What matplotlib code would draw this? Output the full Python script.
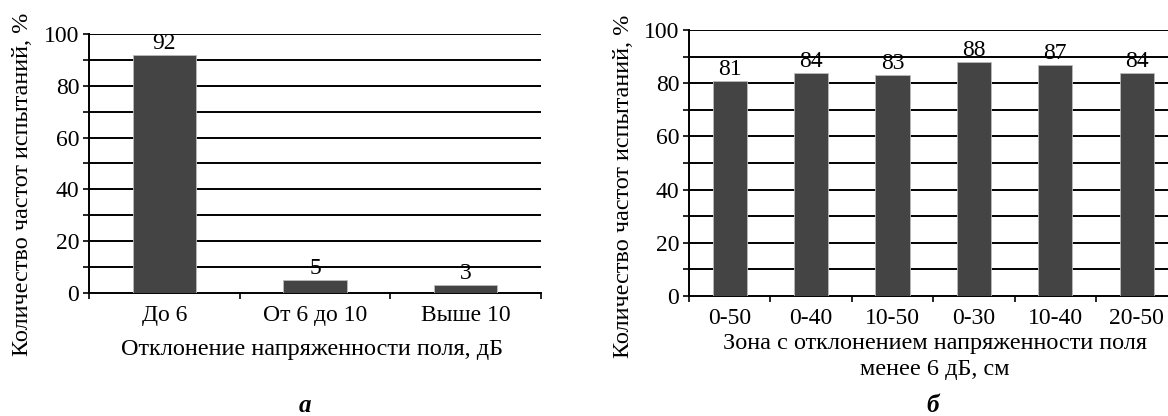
import matplotlib
matplotlib.use("Agg")
import matplotlib.pyplot as plt
import numpy as np

plt.rcParams['font.family'] = ['Liberation Serif', 'DejaVu Serif']
plt.rcParams['font.size'] = 17

# Chart a
dev_labels = ["До 6", "От 6 до 10", "Выше 10"]
dev_values = [92, 5, 3]

# Chart б
zone_labels = ["0-50", "0-40", "10-50", "0-30", "10-40", "20-50"]
zone_values = [81, 84, 83, 88, 87, 84]

ylabel = "Количество частот испытаний, %"
bar_color = "#444444"
W, H = 1168, 416

fig = plt.figure(figsize=(11.68, 4.16), dpi=100)
ax1 = fig.add_axes([0.0762, 0.2957, 0.387, 0.6226])
ax2 = fig.add_axes([0.5899, 0.2885, 0.4182, 0.6394])


def draw(ax, labels, values):
    n = len(labels)
    x = np.arange(n)
    ax.bar(x, values, width=0.42, color=bar_color, edgecolor="#bbbbbb",
           linewidth=0.6, zorder=3)
    for xi, v in zip(x, values):
        ax.text(xi, v + 0.3, str(v), ha="center", va="bottom", zorder=4)
    ax.set_xlim(-0.5, n - 0.5)
    ax.set_ylim(0, 100)
    ax.set_yticks(np.arange(0, 101, 20))
    ax.set_yticks(np.arange(10, 100, 20), minor=True)
    for yv in range(10, 101, 10):
        ax.axhline(yv, color="black", linewidth=1.4, zorder=1)
    ax.set_xticks(x)
    ax.set_xticklabels(labels)
    ax.set_xticks(np.arange(-0.5, n, 1.0), minor=True)
    ax.tick_params(axis="x", which="major", length=0, pad=9)
    ax.tick_params(axis="x", which="minor", length=4, width=1.2, direction="out")
    ax.tick_params(axis="y", which="both", length=4, width=1.2, direction="out", pad=3)
    for s in ["top", "right"]:
        ax.spines[s].set_visible(False)
    ax.spines["left"].set_linewidth(1.4)
    ax.spines["bottom"].set_linewidth(1.4)


draw(ax1, dev_labels, dev_values)
draw(ax2, zone_labels, zone_values)

lab = 17.5
fig.text(23 / W, 1 - 184 / H, ylabel, rotation=90, ha="center", va="center", fontsize=lab)
fig.text(623 / W, 1 - 186 / H, ylabel, rotation=90, ha="center", va="center", fontsize=lab)

fig.text(312 / W, 1 - 350 / H, "Отклонение напряженности поля, дБ",
         ha="center", va="center", fontsize=lab)
fig.text(935 / W, 1 - 344 / H, "Зона с отклонением напряженности поля",
         ha="center", va="center", fontsize=lab)
fig.text(935 / W, 1 - 370 / H, "менее 6 дБ, см", ha="center", va="center", fontsize=lab)

fig.text(305 / W, 1 - 405 / H, "а", ha="center", va="center",
         fontweight="bold", fontstyle="italic", fontsize=18)
fig.text(933 / W, 1 - 405 / H, "б", ha="center", va="center",
         fontweight="bold", fontstyle="italic", fontsize=18)

fig.savefig("out.png", dpi=100)
